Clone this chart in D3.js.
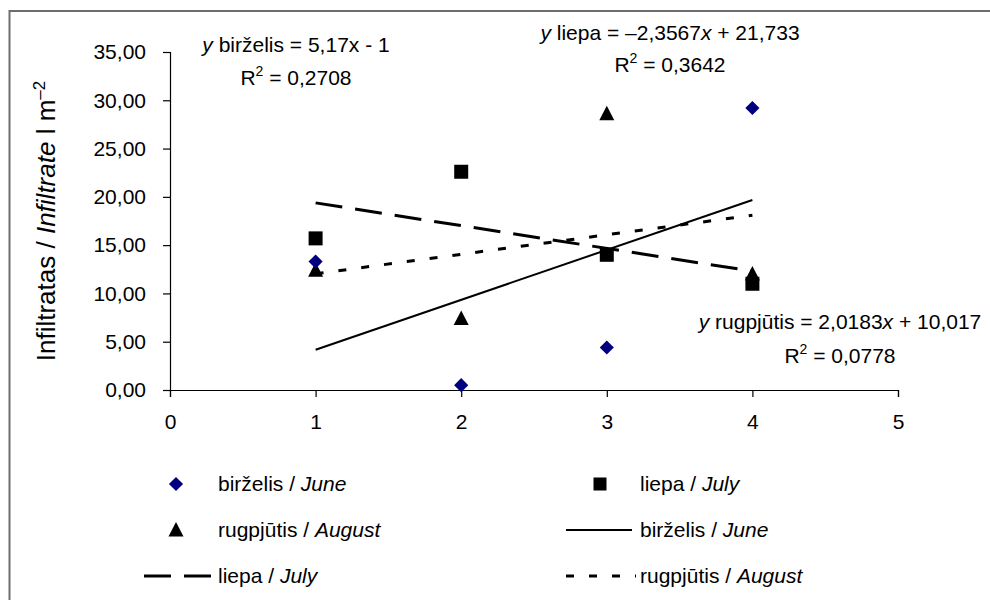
<!DOCTYPE html>
<html><head><meta charset="utf-8">
<script src="https://cdn.jsdelivr.net/npm/d3@7"></script>
<style>
body{margin:0;background:#fff;}
svg{display:block;font-family:"Liberation Sans",Arial,sans-serif;}
</style></head>
<body><svg id="c" width="990" height="600"></svg>
<script>
// ---- data ----
const months = [1, 2, 3, 4];
const juneValues = [13.3, 0.5, 4.4, 29.2];
const julyValues = [15.7, 22.6, 14.0, 11.0];
const augustValues = [12.4, 7.4, 28.6, 12.0];
const trendSlopes = [5.17, -2.3567, 2.0183];
const trendIntercepts = [-1, 21.733, 10.017];
const yTicks = [0, 5, 10, 15, 20, 25, 30, 35];
const xTicks = [0, 1, 2, 3, 4, 5];
const seriesNames = ["birželis", "liepa", "rugpjūtis"];
const seriesNamesEn = ["June", "July", "August"];
const eqTexts = [
  {y: "y", name: " birželis = 5,17x - 1", r2: "0,2708"},
  {y: "y", name: " liepa = –2,3567", x: "x", rest: " + 21,733", r2: "0,3642"},
  {y: "y", name: " rugpjūtis = 2,0183", x: "x", rest: " + 10,017", r2: "0,0778"}
];

const svg = d3.select("#c");
const FS = 21;
// frame
svg.append("rect").attr("x", 9.5).attr("y", 11).attr("width", 1000).attr("height", 700)
  .attr("fill", "none").attr("stroke", "#6e6e6e").attr("stroke-width", 2);

const x = d3.scaleLinear().domain([0, 5]).range([170, 898]);
const y = d3.scaleLinear().domain([0, 35]).range([390, 52]);
const fmt = v => d3.format(".2f")(v).replace(".", ",");

const yAxis = svg.append("g").attr("transform", "translate(170,0)")
  .call(d3.axisLeft(y).tickValues(yTicks).tickFormat(fmt).tickSize(7).tickPadding(17));
const xAxis = svg.append("g").attr("transform", "translate(0,390)")
  .call(d3.axisBottom(x).tickValues(xTicks).tickFormat(d3.format("d")).tickSize(7).tickPadding(17));
[yAxis, xAxis].forEach(a => {
  a.selectAll("text").attr("font-size", FS).attr("font-family", "Liberation Sans, Arial, sans-serif").attr("fill", "#000");
  a.selectAll("line,path").attr("stroke", "#000").attr("stroke-width", 1.2);
});

// axis title
const at = svg.append("text").attr("transform", "translate(55,221) rotate(-90)")
  .attr("text-anchor", "middle").attr("font-size", 26).attr("fill", "#000");
at.append("tspan").text("Infiltratas / ");
at.append("tspan").attr("font-style", "italic").text("Infiltrate");
at.append("tspan").text(" l m");
at.append("tspan").attr("font-size", 17).attr("dy", -10).text("–2");

// trendlines
const dashes = [null, "27,13", "8,15"];
trendSlopes.forEach((s, i) => {
  const b = trendIntercepts[i];
  const p = svg.append("line")
    .attr("x1", x(1)).attr("y1", y(s * 1 + b))
    .attr("x2", x(4)).attr("y2", y(s * 4 + b))
    .attr("stroke", "#000").attr("stroke-width", i === 0 ? 2 : 3);
  if (dashes[i]) p.attr("stroke-dasharray", dashes[i]);
});

// markers
const diamond = d3.symbol(d3.symbolSquare, 100)();
const square = d3.symbol(d3.symbolSquare, 196)();
const tri = "M0,-8L7.5,6.5L-7.5,6.5Z";
months.forEach((m, i) => {
  svg.append("path").attr("d", square).attr("fill", "#000")
    .attr("transform", `translate(${x(m)},${y(julyValues[i])})`);
});
months.forEach((m, i) => {
  svg.append("path").attr("d", tri).attr("fill", "#000")
    .attr("transform", `translate(${x(m)},${y(augustValues[i])})`);
});
months.forEach((m, i) => {
  svg.append("path").attr("d", diamond).attr("fill", "#000080")
    .attr("transform", `translate(${x(m)},${y(juneValues[i])}) rotate(45)`);
});

// equations
const eqPos = [[296, 52, 85], [670, 40, 72], [840, 329, 363]];
eqTexts.forEach((e, i) => {
  const [cx, b1, b2] = eqPos[i];
  const t = svg.append("text").attr("x", cx).attr("y", b1).attr("text-anchor", "middle").attr("font-size", FS);
  t.append("tspan").attr("font-style", "italic").text(e.y);
  t.append("tspan").text(e.name);
  if (e.x) { t.append("tspan").attr("font-style", "italic").text(e.x); t.append("tspan").text(e.rest); }
  const r = svg.append("text").attr("x", cx).attr("y", b2).attr("text-anchor", "middle").attr("font-size", FS);
  r.append("tspan").text("R");
  r.append("tspan").attr("font-size", 14).attr("dy", -9).text("2");
  r.append("tspan").attr("dy", 9).text(" = " + e.r2);
});

// legend
const legend = [
  {type: "diamond", s: 0, mx: 176, tx: 218, yy: 484},
  {type: "square", s: 1, mx: 600, tx: 640, yy: 484},
  {type: "triangle", s: 2, mx: 176, tx: 218, yy: 530},
  {type: "line", s: 0, lx: [566, 632], tx: 640, yy: 530},
  {type: "line", s: 1, lx: [144, 211], tx: 218, yy: 576},
  {type: "line", s: 2, lx: [566, 636], tx: 640, yy: 576}
];
legend.forEach(L => {
  if (L.type === "diamond") svg.append("path").attr("d", diamond).attr("fill", "#000080").attr("transform", `translate(${L.mx},${L.yy}) rotate(45)`);
  if (L.type === "square") svg.append("path").attr("d", d3.symbol(d3.symbolSquare, 169)()).attr("fill", "#000").attr("transform", `translate(${L.mx},${L.yy})`);
  if (L.type === "triangle") svg.append("path").attr("d", tri).attr("fill", "#000").attr("transform", `translate(${L.mx},${L.yy})`);
  if (L.type === "line") {
    const p = svg.append("line").attr("x1", L.lx[0]).attr("x2", L.lx[1]).attr("y1", L.yy).attr("y2", L.yy)
      .attr("stroke", "#000").attr("stroke-width", L.s === 0 ? 2 : 3);
    if (dashes[L.s]) p.attr("stroke-dasharray", dashes[L.s]);
  }
  const t = svg.append("text").attr("x", L.tx).attr("y", L.yy + 7).attr("font-size", FS);
  t.append("tspan").text(seriesNames[L.s] + " / ");
  t.append("tspan").attr("font-style", "italic").text(seriesNamesEn[L.s]);
});
</script></body></html>
